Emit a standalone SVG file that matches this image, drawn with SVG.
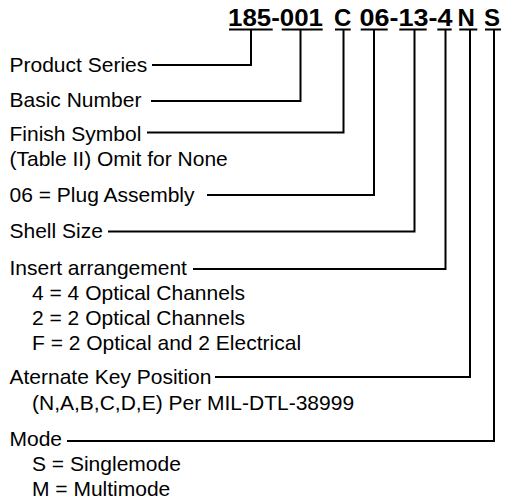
<svg xmlns="http://www.w3.org/2000/svg" width="505" height="501" viewBox="0 0 505 501">
<style>
.lbl{font-family:"Liberation Sans",Arial,sans-serif;font-size:21px;fill:#000}
.hdr{font-family:"Liberation Sans",Arial,sans-serif;font-size:24px;font-weight:bold;fill:#000}
.ul{stroke:#000;stroke-width:2;fill:none}
.cn{stroke:#000;stroke-width:2;fill:none}
</style>
<rect width="505" height="501" fill="#fff"/>
<g id="header">
<text class="hdr" x="228" y="26" textLength="95" lengthAdjust="spacingAndGlyphs">185-001</text>
<text class="hdr" x="334" y="26">C</text>
<text class="hdr" x="359.5" y="26" textLength="93" lengthAdjust="spacingAndGlyphs">06-13-4</text>
<text class="hdr" x="457.5" y="26">N</text>
<text class="hdr" x="484" y="26">S</text>
<path class="ul" d="M229 29.5H272.7M281.7 29.5H322.7M335 29.5H350.7M360.7 29.5H387.7M399.3 29.5H426.7M437.3 29.5H451.7M459.3 29.5H477.3M485 29.5H501"/>
</g>
<g id="connectors">
<path class="cn" d="M251 30V65H152"/>
<path class="cn" d="M300.5 30V101H151"/>
<path class="cn" d="M343.5 30V132.5H147"/>
<path class="cn" d="M374 30V195H207"/>
<path class="cn" d="M414.5 30V231.5H108"/>
<path class="cn" d="M445.5 30V269H193"/>
<path class="cn" d="M470 30V377H215"/>
<path class="cn" d="M494 30V441H67"/>
</g>
<g id="product-series"><text class="lbl" x="9.5" y="71.5">Product Series</text></g>
<g id="basic-number"><text class="lbl" x="9.5" y="107">Basic Number</text></g>
<g id="finish-symbol"><text class="lbl" x="9.5" y="140.5">Finish Symbol</text><text class="lbl" x="9.5" y="166">(Table II) Omit for None</text></g>
<g id="plug-assembly"><text class="lbl" x="9.5" y="202">06 = Plug Assembly</text></g>
<g id="shell-size"><text class="lbl" x="9.5" y="238">Shell Size</text></g>
<g id="insert-arrangement"><text class="lbl" x="9.5" y="275">Insert arrangement</text><text class="lbl" x="32" y="300">4 = 4 Optical Channels</text><text class="lbl" x="32" y="325">2 = 2 Optical Channels</text><text class="lbl" x="32" y="350">F = 2 Optical and 2 Electrical</text></g>
<g id="key-position"><text class="lbl" x="9.5" y="384">Aternate Key Position</text><text class="lbl" x="32" y="410">(N,A,B,C,D,E) Per MIL-DTL-38999</text></g>
<g id="mode"><text class="lbl" x="9.5" y="446">Mode</text><text class="lbl" x="32" y="471">S = Singlemode</text><text class="lbl" x="32" y="496">M = Multimode</text></g>
</svg>
